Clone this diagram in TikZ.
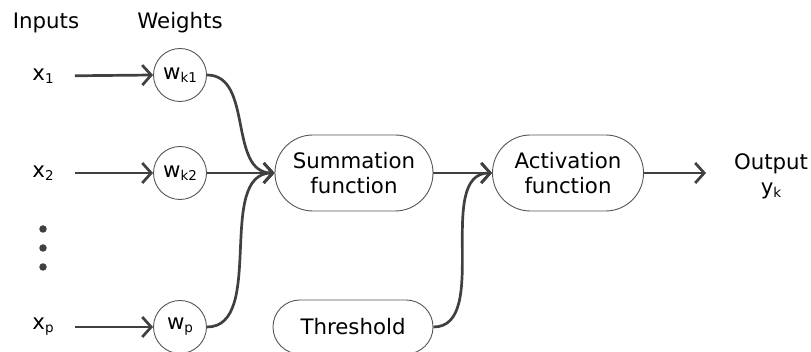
\documentclass[tikz,border=0pt]{standalone}
\usepackage{fontspec}
\setmainfont{DejaVu Sans}
\usetikzlibrary{arrows.meta}
\definecolor{linec}{HTML}{404040}
\definecolor{borderc}{HTML}{555555}
\newcommand{\mysub}[1]{\raisebox{-3pt}{\fontsize{13.5}{13.5}\selectfont #1}}
\begin{document}
\begin{tikzpicture}[x=1pt,y=1pt,
  lbl/.style={font=\fontsize{21.3}{25}\selectfont, inner sep=0pt, text=black},
  wcirc/.style={circle, draw=borderc, line width=0.9pt, minimum size=53pt, inner sep=0pt, font=\fontsize{21.3}{25}\selectfont},
  fbox/.style={draw=borderc, line width=0.9pt, align=center, inner sep=0pt, font=\fontsize{21.3}{25}\selectfont},
  arr/.style={draw=linec, line width=2.7pt, -{Straight Barb[length=9pt,width=20pt,line width=2.7pt]}},
  dotc/.style={circle, fill=linec, inner sep=0pt, minimum size=7.5pt}
]
\useasboundingbox (0,0) rectangle (811,352);

\node[lbl] (inputs) at (46,329) {Inputs};
\node[lbl] (weights) at (180,329) {Weights};

\node[lbl] (x1) at (43,276) {x\mysub{1}};
\node[lbl] (x2) at (43,179) {x\mysub{2}};
\node[lbl] (xp) at (43,25) {x\mysub{p}};

\node[dotc] (d1) at (43,123) {};
\node[dotc] (d2) at (43,104) {};
\node[dotc] (d3) at (43,85) {};

\node[wcirc] (wk1) at (180,277) {w\mysub{k1}};
\node[wcirc] (wk2) at (180,179) {w\mysub{k2}};
\node[wcirc] (wp) at (180,25) {w\mysub{p}};

\node[fbox, minimum width=158pt, minimum height=76pt, rounded corners=37.9pt] (sum) at (354,179) {Summation\\function};
\node[fbox, minimum width=151pt, minimum height=76pt, rounded corners=37.9pt] (act) at (568,179) {Activation\\function};
\node[fbox, minimum width=160pt, minimum height=54pt, rounded corners=26.9pt] (thr) at (353,25) {Threshold};

\node[lbl, align=center] (out) at (771,176) {Output\\y\mysub{k}};
\coordinate (outend) at (706,179);

\draw[arr, shorten <=21pt] (x1.east) -- (wk1.west);
\draw[arr, shorten <=21pt] (x2.east) -- (wk2.west);
\draw[arr, shorten <=21pt] (xp.east) -- (wp.west);

\draw[arr] (wk1.east) to[out=0,in=180] (sum.west);
\draw[arr] (wk2.east) -- (sum.west);
\draw[arr] (wp.east) to[out=0,in=180,looseness=0.9] (sum.west);

\draw[arr] (sum.east) -- (act.west);
\draw[arr] (thr.east) to[out=0,in=180,looseness=0.9] (act.west);
\draw[arr] (act.east) -- (outend);
\end{tikzpicture}
\end{document}
